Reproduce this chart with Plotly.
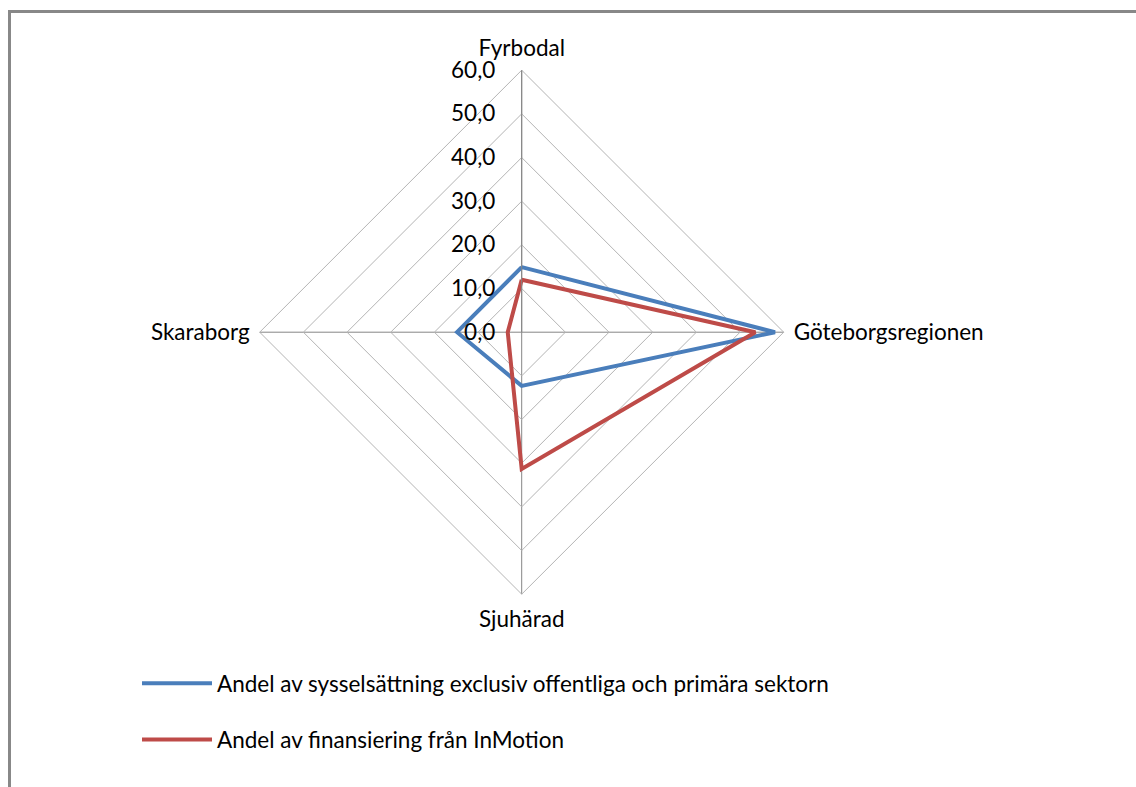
import plotly.graph_objects as go

# Regions (clockwise from the top) and each series' share in percent
regions = ["Fyrbodal", "Göteborgsregionen", "Sjuhärad", "Skaraborg"]
sysselsattning = [14.9, 58.0, 12.3, 14.8]
finansiering = [12.0, 53.5, 31.3, 3.2]

series_names = [
    "Andel av sysselsättning exclusiv offentliga och primära sektorn",
    "Andel av finansiering från InMotion",
]
series_colors = ["#4A7EBB", "#BE4B48"]

tick_vals = [0, 10, 20, 30, 40, 50, 60]
tick_text = ["0,0", "10,0", "20,0", "30,0", "40,0", "50,0", "60,0"]

FONT = "Lato, 'Open Sans', sans-serif"
FS = 22.5

fig = go.Figure()
for i, (name, vals) in enumerate(zip(series_names, [sysselsattning, finansiering])):
    fig.add_trace(go.Scatterpolar(
        r=vals + vals[:1],
        theta=regions + regions[:1],
        mode="lines",
        name=name,
        legendgroup=f"g{i}",
        line=dict(color=series_colors[i], width=4),
    ))

W, H = 1136, 787
cx, cy, rad = 521.7, 332.2, 262

fig.update_layout(
    width=W, height=H,
    margin=dict(l=0, r=0, t=0, b=0),
    paper_bgcolor="white",
    font=dict(family=FONT, size=FS, color="#000000"),
    polar=dict(
        domain=dict(x=[(cx - rad) / W, (cx + rad) / W],
                    y=[(H - cy - rad) / H, (H - cy + rad) / H]),
        gridshape="linear",
        bgcolor="white",
        radialaxis=dict(
            range=[0, 60], tickvals=tick_vals, ticktext=tick_text,
            angle=90, tickangle=90, side="counterclockwise",
            showline=True, linecolor="#868686", linewidth=1,
            gridcolor="#B4B4B4", gridwidth=1,
            ticks="outside", ticklen=18, tickcolor="rgba(0,0,0,0)",
            tickfont=dict(size=FS, family=FONT),
        ),
        angularaxis=dict(
            rotation=90, direction="clockwise",
            showline=True, linecolor="#B4B4B4", linewidth=1,
            gridcolor="#868686", gridwidth=1,
            ticks="outside", ticklen=5, tickcolor="rgba(0,0,0,0)",
            tickfont=dict(size=FS, family=FONT),
        ),
    ),
    showlegend=True,
    legend=dict(
        x=137 / W, y=1 - 662 / H, xanchor="left", yanchor="top",
        bgcolor="rgba(0,0,0,0)", tracegroupgap=24, itemwidth=70,
        font=dict(size=FS, family=FONT),
    ),
    shapes=[
        dict(type="line", xref="paper", yref="paper",
             x0=9.5 / W, x1=1.0, y0=1 - 11.5 / H, y1=1 - 11.5 / H,
             line=dict(color="#888888", width=3)),
        dict(type="line", xref="paper", yref="paper",
             x0=9.5 / W, x1=9.5 / W, y0=0, y1=1 - 10 / H,
             line=dict(color="#888888", width=3)),
    ],
)

fig.write_html("out.html")
